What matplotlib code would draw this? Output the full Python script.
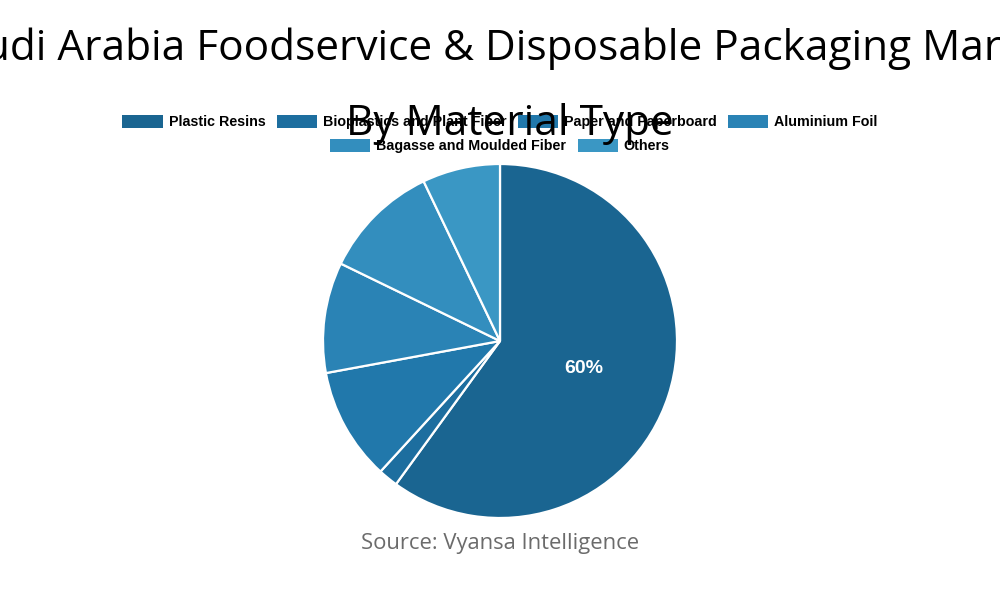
import matplotlib.pyplot as plt
from matplotlib.patches import Patch

# data
materials = ['Plastic Resins', 'Bioplastics and Plant Fiber', 'Paper and Paperboard',
             'Aluminium Foil', 'Bagasse and Moulded Fiber', 'Others']
shares = [60.0, 1.8, 10.3, 10.1, 10.7, 7.1]
colors = ['#1a6591', '#1d6e9f', '#2178ab', '#2a83b5', '#338ebe', '#3a97c4']

fig = plt.figure(figsize=(10, 6), dpi=100)
fig.patch.set_facecolor('white')

# pie centred at (500, 341) px, radius ~177 px
ax = fig.add_axes([(500 - 177) / 1000, (600 - 341 - 177) / 600, 354 / 1000, 354 / 600])


def pct_label(p):
    return f'{p:.0f}%' if p >= 20 else ''


wedges, texts, autotexts = ax.pie(
    shares, colors=colors, startangle=90, counterclock=False,
    autopct=pct_label, pctdistance=0.5,
    wedgeprops=dict(edgecolor='white', linewidth=1.6),
    textprops=dict(color='white', fontsize=14, fontweight='bold', family='Liberation Sans'))
ax.set_aspect('equal')
ax.set_xlim(-1, 1)
ax.set_ylim(-1, 1)

handles = [Patch(facecolor=c, edgecolor='none') for c in colors]
leg_kw = dict(frameon=False, handlelength=2.8, handleheight=1.0, handletextpad=0.42,
              columnspacing=0.8, borderpad=0, borderaxespad=0,
              prop=dict(family='Liberation Sans', weight='bold', size=10.3))
leg1 = fig.legend(handles[:4], materials[:4], ncol=4, loc='center',
                  bbox_to_anchor=(0.5, 1 - 122 / 600), **leg_kw)
leg2 = fig.legend(handles[4:], materials[4:], ncol=2, loc='center',
                  bbox_to_anchor=(0.5, 1 - 146 / 600), **leg_kw)

# title (overflows the canvas like the reference)
fig.text(0.5, 1 - 49 / 600, 'Saudi Arabia Foodservice & Disposable Packaging Market',
         ha='center', va='center', fontsize=30.5, family='Open Sans', color='black', zorder=10)
fig.text(0.51, 1 - 124 / 600, 'By Material Type',
         ha='center', va='center', fontsize=30.5, family='Open Sans', color='black', zorder=10)

fig.text(0.5, 1 - 543 / 600, 'Source: Vyansa Intelligence', ha='center', va='center',
         fontsize=15.8, family='Open Sans', color='#6b6b6b')

fig.savefig('out.png', dpi=100, facecolor='white')
